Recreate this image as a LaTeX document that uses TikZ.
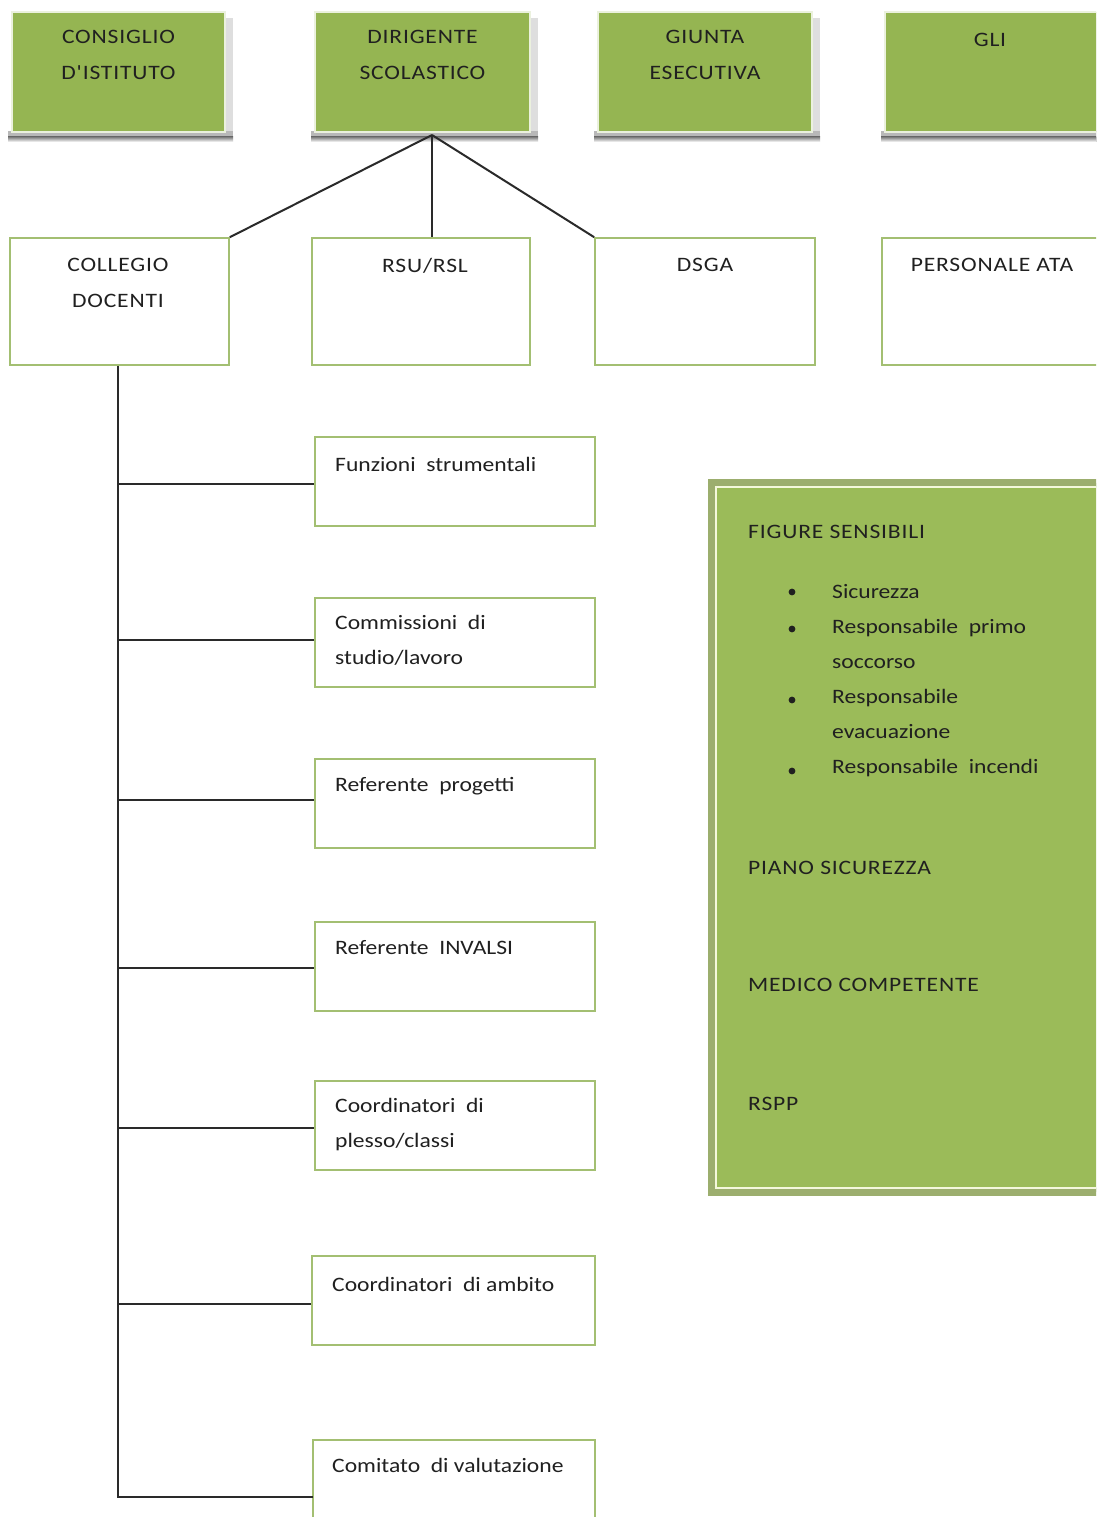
\documentclass[tikz,border=0pt]{standalone}
\usepackage{fontspec}
\setmainfont{Carlito}[FakeStretch=1.15]
\newfontfamily\capsfont{Carlito}[FakeStretch=1.15, LetterSpace=4]
\usetikzlibrary{calc}
\definecolor{ogreen}{HTML}{9BBB59}
\definecolor{tgreen}{HTML}{95B552}
\definecolor{bgreen}{HTML}{A3BF72}
\definecolor{band}{HTML}{9CAE6E}
\definecolor{cream}{HTML}{F4F8DC}
\definecolor{shade}{HTML}{A0A0A0}
\definecolor{txt}{HTML}{202020}
\definecolor{conn}{HTML}{2A2A2A}
\tikzset{
  topbox/.style={rectangle, fill=tgreen, draw=white!80!ogreen, line width=1.5pt, minimum width=#1, minimum height=120pt, inner sep=0pt},
  wbox/.style={rectangle, fill=white, draw=bgreen, line width=1.6pt, minimum width=#1, minimum height=127pt, inner sep=0pt},
  cbox/.style={rectangle, fill=white, draw=bgreen, line width=1.6pt, minimum width=280pt, minimum height=89pt, inner sep=0pt},
  lbl/.style={font=\capsfont\fontsize{20.5}{36}\selectfont, text=txt, inner sep=0pt, align=center},
  clbl/.style={font=\capsfont\fontsize{20.5}{35}\selectfont, text=txt, inner sep=0pt, align=left, anchor=north west},
  llbl/.style={font=\fontsize{20.5}{35}\selectfont, text=txt, inner sep=0pt, align=left, anchor=north west},
  connector/.style={draw=conn, line width=2pt},
}
\begin{document}
\begin{tikzpicture}[x=1pt,y=-1pt]
\useasboundingbox (0,0) rectangle (1096,1517);
\clip (0,0) rectangle (1096,1517);
\fill[white] (0,0) rectangle (1096,1517);

% shadows of top boxes
\foreach \l/\r in {12/225, 315/530, 598/812, 885/1110}{
  \fill[shade!35] (\l+4,18) rectangle (\r+8,142);
  \fill[shade!75] (\l-4,131) rectangle (\r+8,142);
  \fill[shade] (\l-4,137) rectangle (\r+8,142);
}

% top row
\node[topbox=213pt] (ci) at (118.5,72) {};
\node[topbox=215pt] (ds) at (422.5,72) {};
\node[topbox=214pt] (ge) at (705,72) {};
\node[topbox=215pt] (gli) at (992.5,72) {};
\node[lbl, anchor=north] (tci) at (118.5,30) {CONSIGLIO\\D'ISTITUTO};
\node[lbl, anchor=north] (tds) at (422.5,30) {DIRIGENTE\\SCOLASTICO};
\node[lbl, anchor=north] (tge) at (705,30) {GIUNTA\\ESECUTIVA};
\node[lbl, anchor=north] (tgli) at (990,33) {GLI};

% second row
\node[wbox=219pt] (cd) at (119.5,301.5) {};
\node[wbox=218pt] (rsu) at (421,301.5) {};
\node[wbox=220pt] (dsga) at (705,301.5) {};
\node[wbox=218pt] (ata) at (991,301.5) {};
\node[lbl, anchor=north] (tcd) at (118,258) {COLLEGIO\\DOCENTI};
\node[lbl, anchor=north] (trsu) at (425,258) {RSU/RSL};
\node[lbl, anchor=north] (tdsga) at (705,258) {DSGA};
\node[lbl, anchor=north] (tata) at (992,258) {PERSONALE ATA};

% connectors from Dirigente
\coordinate (hub) at (432,135);
\draw[connector] (hub) -- (cd.north east);
\draw[connector] (hub) -- (hub |- rsu.north);
\draw[connector] (hub) -- (dsga.north west);

% child boxes
\node[cbox] (fs) at (455,481.5) {};
\node[cbox] (cs) at (455,642.5) {};
\node[cbox] (rp) at (455,803.5) {};
\node[cbox] (ri) at (455,966.5) {};
\node[cbox] (cp) at (455,1125.5) {};
\node[cbox, minimum width=283pt] (ca) at (453.5,1300.5) {};
\node[cbox, minimum width=282pt, minimum height=100pt] (cm) at (454,1490) {};

\node[llbl] (tfs) at (335,457) {Funzioni\ \ strumentali};
\node[llbl] (tcs) at (335,615) {Commissioni\ \ di\\studio/lavoro};
\node[llbl] (trp) at (335,777) {Referente\ \ progetti};
\node[llbl] (tri) at (335,940) {Referente\ \ INVALSI};
\node[llbl] (tcp) at (335,1098) {Coordinatori\ \ di\\plesso/classi};
\node[llbl] (tca) at (332,1277) {Coordinatori\ \ di ambito};
\node[llbl] (tcm) at (332,1458) {Comitato\ \ di valutazione};

% trunk
\coordinate (cmjoin) at (313,1497);
\draw[connector] (cd.south -| 118,0) |- (cmjoin);
\foreach \n/\y in {fs/484, cs/640, rp/800, ri/968, cp/1128, ca/1304}{
  \draw[connector] (118,\y) -- (\n.west |- 0,\y);
}

% big green box
\node[rectangle, fill=ogreen, draw=band, line width=8pt, minimum width=402pt, minimum height=709pt, inner sep=0pt] (fig) at (913,837.5) {};
\draw[cream, line width=2.5pt] ($(fig.north west)+(8,8)$) rectangle ($(fig.south east)+(-8,-8)$);

\node[clbl] (tfig) at (748,525) {FIGURE SENSIBILI};
\node[llbl] (b1) at (832,584) {Sicurezza\\Responsabile\ \ primo\\soccorso\\Responsabile\\evacuazione\\Responsabile\ \ incendi};
\foreach \y in {592, 629, 700, 771}{
  \fill[txt] (792,\y) circle (3.4pt);
}
\node[clbl] (tpiano) at (748,861) {PIANO SICUREZZA};
\node[clbl] (tmed) at (748,978) {MEDICO COMPETENTE};
\node[clbl] (trspp) at (748,1097) {RSPP};
\end{tikzpicture}
\end{document}
